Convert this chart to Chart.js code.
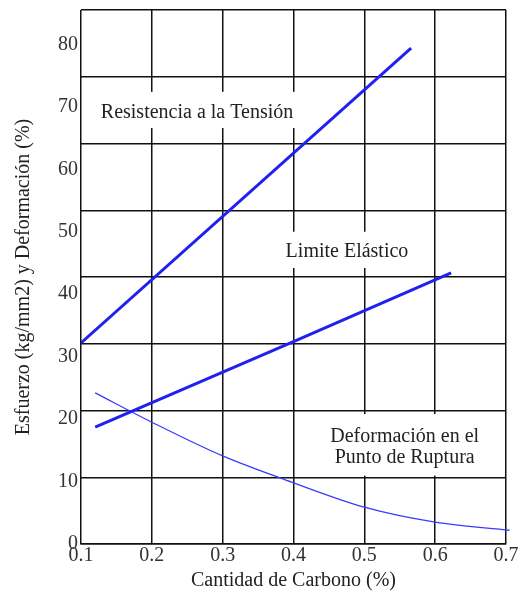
<!DOCTYPE html>
<html>
<head>
<meta charset="utf-8">
<script src="https://cdn.jsdelivr.net/npm/chart.js@4.4.0/dist/chart.umd.min.js"></script>
<style>
  html, body { margin: 0; padding: 0; background: #fff; }
  #wrap { width: 519px; height: 596px; }
</style>
</head>
<body>
<div id="wrap"><canvas id="grafico"></canvas></div>
<script>
// ticks
const xTicks = [0.1, 0.2, 0.3, 0.4, 0.5, 0.6, 0.7];
const yTicks = [0, 10, 20, 30, 40, 50, 60, 70, 80];

// series (carbono %, valor)
const resistenciaX = [0.1, 0.566];
const resistenciaY = [32.2, 79.4];

const elasticoX = [0.12, 0.4, 0.6225];
const elasticoY = [18.7, 32.4, 43.4];

const deformacionX = [0.12, 0.2, 0.3, 0.4, 0.5, 0.6, 0.705];
const deformacionY = [24.2, 19.5, 14.1, 9.8, 5.9, 3.5, 2.2];

const serif = '"Liberation Serif", "DejaVu Serif", serif';

function pts(xs, ys) {
  return xs.map((x, i) => ({ x: x, y: ys[i] }));
}

// text labels with white box behind (covers grid lines)
const etiquetas = {
  id: 'etiquetas',
  beforeDatasetsDraw(chart) {
    const c = chart.ctx;
    const sx = chart.scales.x, sy = chart.scales.y;
    const items = [
      { lines: ['Resistencia a la Tensión'], x: 0.2638, y: 69.0, box: [0.113, 0.408, 66.6, 72.4] },
      { lines: ['Limite Elástico'], x: 0.4755, y: 46.8, box: [0.385, 0.56, 44.2, 50.0] },
      { lines: ['Deformación en el', 'Punto de Ruptura'], x: 0.557, y: 15.5, box: [0.423, 0.69, 10.95, 20.8] }
    ];
    c.save();
    c.font = '20px ' + serif;
    c.textAlign = 'center';
    c.textBaseline = 'middle';
    items.forEach(it => {
      const x0 = sx.getPixelForValue(it.box[0]), x1 = sx.getPixelForValue(it.box[1]);
      const y0 = sy.getPixelForValue(it.box[3]), y1 = sy.getPixelForValue(it.box[2]);
      c.fillStyle = '#fff';
      c.fillRect(x0, y0, x1 - x0, y1 - y0);
      c.fillStyle = '#222';
      const cx = sx.getPixelForValue(it.x), cy = sy.getPixelForValue(it.y);
      it.lines.forEach((t, i) => {
        c.fillText(t, cx, cy + (i - (it.lines.length - 1) / 2) * 21);
      });
    });
    c.restore();
  }
};

const ctx = document.getElementById('grafico').getContext('2d');

const grafico = new Chart(ctx, {
  type: 'scatter',
  data: {
    datasets: [
      {
        data: pts(resistenciaX, resistenciaY),
        showLine: true,
        borderColor: '#2020f0',
        borderWidth: 3,
        pointRadius: 0
      },
      {
        data: pts(elasticoX, elasticoY),
        showLine: true,
        borderColor: '#2020f0',
        borderWidth: 3,
        pointRadius: 0
      },
      {
        data: pts(deformacionX, deformacionY),
        showLine: true,
        borderColor: '#3a3aff',
        borderWidth: 1.3,
        pointRadius: 0,
        cubicInterpolationMode: 'monotone',
        clip: false
      }
    ]
  },
  options: {
    responsive: true,
    maintainAspectRatio: false,
    animation: false,
    layout: { padding: { left: 0, right: 13, top: 10, bottom: 0 } },
    plugins: {
      legend: { display: false },
      tooltip: { enabled: false }
    },
    scales: {
      x: {
        type: 'linear',
        min: 0.1,
        max: 0.7,
        afterBuildTicks: s => { s.ticks = xTicks.map(v => ({ value: v })); },
        afterFit: s => { s.height = 52; },
        grid: { color: '#111', lineWidth: 1.5, drawTicks: false },
        border: { color: '#111', width: 1.5 },
        ticks: {
          color: '#333',
          font: { family: serif, size: 20 },
          padding: 0,
          maxRotation: 0,
          callback: v => v.toFixed(1)
        },
        title: {
          display: true,
          text: 'Cantidad de Carbono (%)',
          color: '#222',
          font: { family: serif, size: 20 },
          padding: { top: 0, bottom: 3 }
        }
      },
      y: {
        type: 'linear',
        position: 'left',
        min: 0,
        max: 85.5,
        afterBuildTicks: s => { s.ticks = yTicks.map(v => ({ value: v })); },
        afterFit: s => { s.width = 81; s.paddingTop = 0; s.paddingBottom = 0; },
        grid: { display: false, drawTicks: false },
        border: { display: false },
        ticks: {
          color: '#333',
          font: { family: serif, size: 20 },
          padding: 3
        },
        title: {
          display: true,
          text: 'Esfuerzo (kg/mm2) y Deformación (%)',
          color: '#222',
          font: { family: serif, size: 20 },
          padding: { top: 12, bottom: 0 }
        }
      },
      yGrid: {
        type: 'linear',
        position: 'left',
        min: 0,
        max: 8,
        afterBuildTicks: s => {
          s.ticks = [0, 1, 2, 3, 4, 5, 6, 7, 8].map(v => ({ value: v }));
        },
        afterFit: s => { s.width = 0; s.paddingTop = 0; s.paddingBottom = 0; },
        grid: { color: '#111', lineWidth: 1.5, drawTicks: false },
        border: { display: false },
        ticks: { display: false }
      }
    }
  },
  plugins: [etiquetas]
});
</script>
</body>
</html>
